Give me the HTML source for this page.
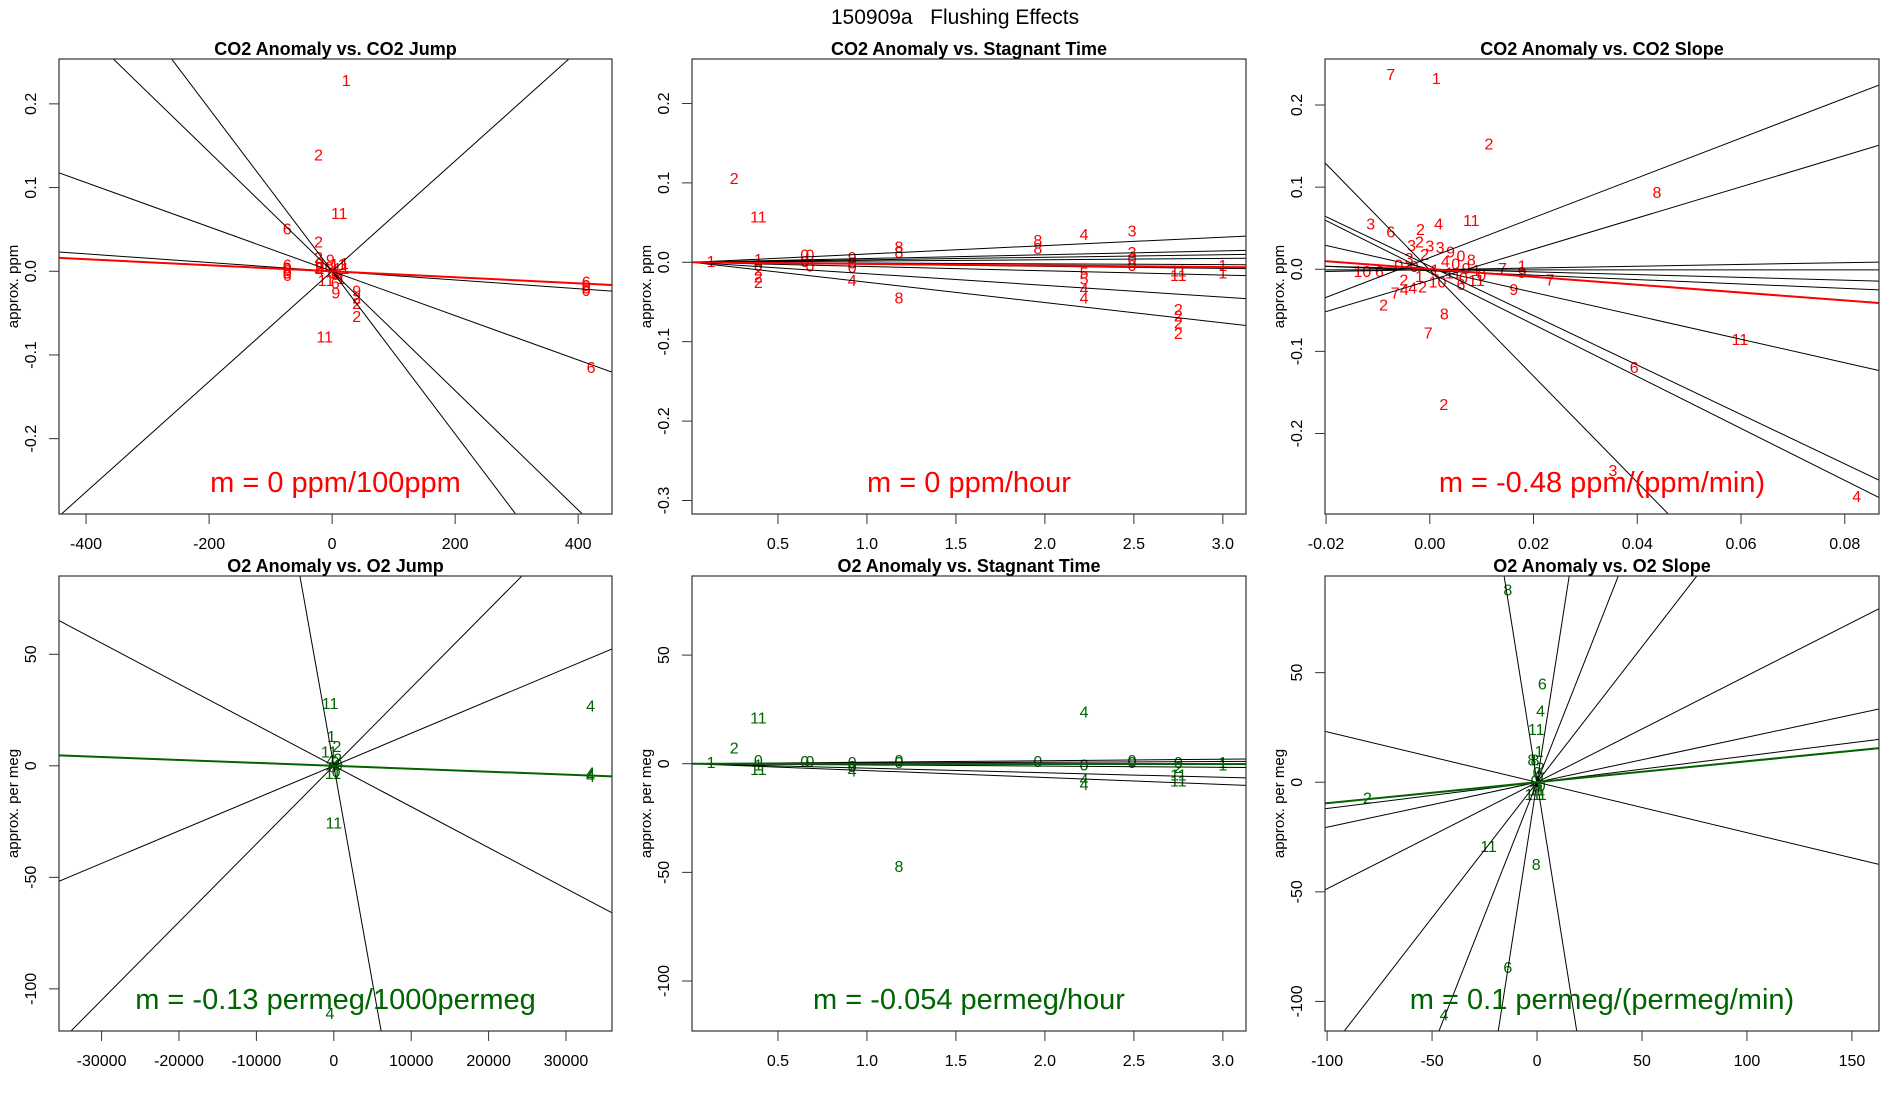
<!DOCTYPE html>
<html><head><meta charset="utf-8"><style>
html,body{margin:0;padding:0;background:#fff;width:1900px;height:1100px;overflow:hidden;}
svg{display:block;font-family:"Liberation Sans",sans-serif;}
</style></head><body>
<svg id="chart" width="1900" height="1100" viewBox="0 0 1900 1100" xmlns="http://www.w3.org/2000/svg">
<rect width="1900" height="1100" fill="#fff"/>
<text x="955" y="24" font-size="21" text-anchor="middle" xml:space="preserve">150909a   Flushing Effects</text>
</svg>
<script>
// ---------- Panel 1: CO2 Anomaly vs CO2 Jump ----------
const p1X = [23,-22,11.6,-73,-22,-73,-73,-73,-73,-73,413,413,413,413,421,-12,6,40,40,40,40,-22,-3,-20,20,10,-20,-5,-20,5,15,0,5,10,-10,5,15,-22];
const p1Y = [0.227,0.1375,0.0676,0.0496,0.034,0.006,0.003,0,-0.003,-0.006,-0.014,-0.018,-0.021,-0.024,-0.116,-0.08,-0.027,-0.025,-0.033,-0.04,-0.055,0.015,0.012,0.008,0.008,0.007,0.003,0.004,-0.001,0,0.002,-0.003,-0.005,-0.006,-0.012,-0.015,-0.01,0.003];
const p1Lab = ["1","2","11","6","2","6","0","6","0","6","6","0","6","0","6","11","9","9","2","2","2","2","9","0","1","11","0","0","4","1","11","0","6","4","11","6","1","2"];
const p1Slope = [-7.13e-4,-9.72e-4,-2.65e-4,-5.2e-5,6.59e-4];
const p1Int = [0,0,0,0,0];
const p1FitSlope = [-3.6e-5];
const p1FitInt = [0];
const p1XTicks = [-400,-200,0,200,400];
const p1YTicks = [-0.2,-0.1,0.0,0.1,0.2];
const p1YTickLab = ["-0.2","-0.1","0.0","0.1","0.2"];

// ---------- Panel 2: CO2 Anomaly vs Stagnant Time ----------
const p2X = [0.254,0.39,0.124,0.39,0.39,0.39,0.39,0.39,0.65,0.68,0.65,0.68,0.917,0.917,0.917,0.917,1.18,1.18,1.18,1.96,1.96,2.22,2.22,2.22,2.22,2.22,2.49,2.49,2.49,2.49,2.75,2.75,2.75,2.75,2.75,2.75,3.0,3.0];
const p2Y = [0.104,0.056,0,0.002,-0.005,-0.011,-0.02,-0.027,0.008,0.008,0,-0.006,0.005,-0.002,-0.008,-0.024,0.018,0.011,-0.046,0.026,0.016,0.034,-0.015,-0.022,-0.035,-0.046,0.038,0.011,0.003,-0.005,-0.012,-0.018,-0.061,-0.069,-0.078,-0.091,-0.005,-0.015];
const p2Lab = ["2","11","1","1","0","2","2","2","0","0","0","0","9","0","0","4","8","8","8","8","8","4","5","5","4","4","3","3","0","0","11","11","2","2","2","2","1","1"];
const p2Slope = [0.0106,0.0048,0.0032,0.0016,-0.001,-0.0026,-0.0054,-0.0147,-0.0256];
const p2Int = [-0.0002,-0.0001,-0.0001,0,0,0.0001,0.0001,0.0003,0.0005];
const p2FitSlope = [-0.002];
const p2FitInt = [0];
const p2XTicks = [0.5,1.0,1.5,2.0,2.5,3.0];
const p2XTickLab = ["0.5","1.0","1.5","2.0","2.5","3.0"];
const p2YTicks = [-0.3,-0.2,-0.1,0.0,0.1,0.2];
const p2YTickLab = ["-0.3","-0.2","-0.1","0.0","0.1","0.2"];

// ---------- Panel 3: CO2 Anomaly vs CO2 Slope ----------
const p3X = [-0.0075,0.00125,0.0114,0.0438,0.008,-0.0114,-0.0075,-0.0018,0.0017,0.0598,0.0394,0.0027,0.0353,0.0823,-0.0003,0.0028,-0.0089,-0.0067,-0.0049,-0.0033,-0.0014,0.0162,0.0232,0.0178,0.0178,0.014,-0.013,-0.0097,-0.0035,-0.002,0.0,0.002,0.004,0.006,0.008,-0.004,-0.001,0.003,0.005,0.007,0.009,-0.006,-0.003,0.001,0.0045,0.0065,0.01,-0.005,-0.002,0.0015,0.006,0.009];
const p3Y = [0.236,0.231,0.151,0.092,0.058,0.054,0.044,0.047,0.054,-0.087,-0.121,-0.166,-0.246,-0.278,-0.079,-0.056,-0.045,-0.03,-0.026,-0.024,-0.023,-0.026,-0.014,-0.005,0.003,0.0,-0.004,-0.004,0.028,0.032,0.027,0.025,0.02,0.015,0.01,0.012,0.017,0.008,0.005,0.0,-0.003,0.004,0.002,-0.002,-0.006,-0.012,-0.008,-0.014,-0.01,-0.017,-0.02,-0.015];
const p3Lab = ["7","1","2","8","11","3","6","2","4","11","6","2","3","4","7","8","2","7","4","4","2","9","7","9","1","7","10","6","3","2","3","3","9","0","8","3","2","4","0","9","1","0","0","1","11","0","0","2","1","10","6","11"];
const p3Slope = [-6.46,-3.01,-3.164,-1.428,-0.269,-0.1685,0,0.1077,2.426,1.9];
const p3Int = [-0.001,0.0038,-0.004,0.0004,-0.0018,0.0002,-0.0007,-0.0006,0.0142,-0.0136];
const p3FitSlope = [-0.478];
const p3FitInt = [0.0003];
const p3XTicks = [-0.02,0.0,0.02,0.04,0.06,0.08];
const p3XTickLab = ["-0.02","0.00","0.02","0.04","0.06","0.08"];
const p3YTicks = [-0.2,-0.1,0.0,0.1,0.2];
const p3YTickLab = ["-0.2","-0.1","0.0","0.1","0.2"];

// ---------- Panel 4: O2 Anomaly vs O2 Jump ----------
const p4X = [-480,33180,33180,33180,33180,0,-500,-300,400,-600,-400,200,600,-200,300,-100,500];
const p4Y = [27.5,26.3,-3.6,-4.5,-5.2,-26,-111.6,12.6,8.1,5.8,2,1,0,-1,-3,-4,2.5];
const p4Lab = ["11","4","4","4","4","11","4","1","2","11","4","0","0","6","0","11","2"];
const p4Slope = [-0.01944,-0.001834,0.001458,0.003502];
const p4Int = [0,0,0,0];
const p4FitSlope = [-0.0001314];
const p4FitInt = [0];
const p4XTicks = [-30000,-20000,-10000,0,10000,20000,30000];
const p4YTicks = [-100,-50,0,50];

// ---------- Panel 5: O2 Anomaly vs Stagnant Time ----------
const p5X = [0.39,0.254,0.124,2.22,1.18,2.75,2.22,2.22,2.75,2.75,0.39,0.39,0.39,0.65,0.68,0.917,0.917,0.917,1.18,1.18,1.96,2.22,2.49,2.49,2.75,3.0,3.0];
const p5Y = [20.6,6.7,0,23.3,-47.8,-8.3,-7.8,-10,-5.6,-2.2,1,-1,-3,0.5,0.5,0,-1.7,-3.9,1,0,0.5,-1,1,0,0,0,-1];
const p5Lab = ["11","2","1","4","8","11","4","4","11","2","0","1","11","0","0","0","0","4","0","0","0","0","0","0","0","1","1"];
const p5Slope = [0.7,0.35,0,-0.55,-2.1,-3.2];
const p5Int = [-0.01,-0.01,0,0.01,0.04,0.06];
const p5FitSlope = [-0.054];
const p5FitInt = [0];
const p5XTicks = [0.5,1.0,1.5,2.0,2.5,3.0];
const p5XTickLab = ["0.5","1.0","1.5","2.0","2.5","3.0"];
const p5YTicks = [-100,-50,0,50];

// ---------- Panel 6: O2 Anomaly vs O2 Slope ----------
const p6X = [-13.9,2.5,1.7,-0.4,1.0,-2.5,-1,-80.8,-23.1,-0.4,-13.9,-44.3,2.5,0,1,-1,2,0,-2,1.5,0.5];
const p6Y = [87.2,44.4,32,23.5,13.5,9.6,9.6,-7.6,-29.8,-37.9,-84.9,-106.6,-6,4,2,0,-2,-4,-6,6,-1];
const p6Lab = ["8","6","4","11","1","8","8","2","11","8","6","4","1","0","0","0","0","11","11","2","4"];
const p6Slope = [-6.0,6.14,2.43,1.236,0.486,0.2053,0.12,0.0944,-0.23];
const p6Int = [0,0,0,0,0,0,0,0,0];
const p6FitSlope = [0.0957];
const p6FitInt = [0];
const p6XTicks = [-100,-50,0,50,100,150];
const p6YTicks = [-100,-50,0,50];

const NS = "http://www.w3.org/2000/svg";
const svg = document.getElementById("chart");

function mk(tag, attrs, parent) {
  const e = document.createElementNS(NS, tag);
  for (const k in attrs) e.setAttribute(k, attrs[k]);
  (parent || svg).appendChild(e);
  return e;
}

let clipCount = 0;
function drawPanel(p) {
  const g = mk("g", {});
  
  
  const L = p.left, R = p.right, T = p.top, B = p.bottom;
  const sx = v => L + (v - p.xmin) / (p.xmax - p.xmin) * (R - L);
  const sy = v => B - (v - p.ymin) / (p.ymax - p.ymin) * (B - T);
  clipCount++;
  const cid = "clip" + clipCount;
  const cp = mk("clipPath", {id: cid}, g);
  mk("rect", {x: L, y: T, width: R - L, height: B - T}, cp);
  const inner = mk("g", {"clip-path": "url(#" + cid + ")"}, g);

  for (let i = 0; i < p.xs.length; i++) {
    const t = mk("text", {x: sx(p.xs[i]), y: sy(p.ys[i]), "font-size": 16, fill: p.color, "text-anchor": "middle", "dominant-baseline": "central"}, inner);
    
    
    t.textContent = p.labs[i];
  }
  for (let i = 0; i < p.slopes.length; i++) {
    const m = p.slopes[i], b = p.ints[i];
    const ln = mk("line", {x1: sx(p.xmin), y1: sy(m * p.xmin + b), x2: sx(p.xmax), y2: sy(m * p.xmax + b), stroke: "#000", "stroke-width": 1}, inner);
    
    
  }
  for (let i = 0; i < p.fitSlope.length; i++) {
    const m = p.fitSlope[i], b = p.fitInt[i];
    const ln = mk("line", {x1: sx(p.xmin), y1: sy(m * p.xmin + b), x2: sx(p.xmax), y2: sy(m * p.xmax + b), stroke: p.color, "stroke-width": 2}, inner);
    
    
  }
  const fr = mk("rect", {x: L, y: T, width: R - L, height: B - T, fill: "none", stroke: "#333", "stroke-width": 1.2}, g);
  
  
  for (let i = 0; i < p.xticks.length; i++) {
    const x = sx(p.xticks[i]);
    mk("line", {x1: x, y1: B, x2: x, y2: B + 10, stroke: "#333"}, g);
    const t = mk("text", {x: x, y: B + 35, "font-size": 16, "text-anchor": "middle"}, g);
    
    
    t.textContent = p.xtlab ? p.xtlab[i] : String(p.xticks[i]);
  }
  for (let i = 0; i < p.yticks.length; i++) {
    const y = sy(p.yticks[i]);
    mk("line", {x1: L, y1: y, x2: L - 10, y2: y, stroke: "#333"}, g);
    const t = mk("text", {x: L - 23, y: y, "font-size": 16, "text-anchor": "middle", transform: "rotate(-90 " + (L - 23) + " " + y + ")"}, g);
    
    
    t.textContent = p.ytlab ? p.ytlab[i] : String(p.yticks[i]);
  }
  const yc = (T + B) / 2;
  const yt = mk("text", {x: L - 41, y: yc, "font-size": 15, "text-anchor": "middle", transform: "rotate(-90 " + (L - 41) + " " + yc + ")"}, g);
  
  
  yt.textContent = p.ylabel;
  const tt = mk("text", {x: (L + R) / 2, y: T - 4, "font-size": 18, "font-weight": "bold", "text-anchor": "middle"}, g);
  
  
  tt.textContent = p.title;
  const an = mk("text", {x: (L + R) / 2, y: p.annY, "font-size": 29, fill: p.color, "text-anchor": "middle"}, g);
  
  
  an.textContent = p.ann;
}

const RED = "#ff0000", GREEN = "#006400";
const colL = [59, 692, 1325], colR = [612, 1246, 1879];

drawPanel({name:"panel-co2-jump", left:colL[0], right:colR[0], top:59, bottom:514, xmin:-444, xmax:455, ymin:-0.29, ymax:0.2536,
  xs:p1X, ys:p1Y, labs:p1Lab, slopes:p1Slope, ints:p1Int, fitSlope:p1FitSlope, fitInt:p1FitInt, color:RED,
  xticks:p1XTicks, yticks:p1YTicks, ytlab:p1YTickLab, ylabel:"approx. ppm", title:"CO2 Anomaly vs. CO2 Jump", ann:"m = 0 ppm/100ppm", annY:492});
drawPanel({name:"panel-co2-stagnant", left:colL[1], right:colR[1], top:59, bottom:514, xmin:0.017, xmax:3.13, ymin:-0.317, ymax:0.256,
  xs:p2X, ys:p2Y, labs:p2Lab, slopes:p2Slope, ints:p2Int, fitSlope:p2FitSlope, fitInt:p2FitInt, color:RED,
  xticks:p2XTicks, xtlab:p2XTickLab, yticks:p2YTicks, ytlab:p2YTickLab, ylabel:"approx. ppm", title:"CO2 Anomaly vs. Stagnant Time", ann:"m = 0 ppm/hour", annY:492});
drawPanel({name:"panel-co2-slope", left:colL[2], right:colR[2], top:59, bottom:514, xmin:-0.0202, xmax:0.0866, ymin:-0.298, ymax:0.256,
  xs:p3X, ys:p3Y, labs:p3Lab, slopes:p3Slope, ints:p3Int, fitSlope:p3FitSlope, fitInt:p3FitInt, color:RED,
  xticks:p3XTicks, xtlab:p3XTickLab, yticks:p3YTicks, ytlab:p3YTickLab, ylabel:"approx. ppm", title:"CO2 Anomaly vs. CO2 Slope", ann:"m = -0.48 ppm/(ppm/min)", annY:492});
drawPanel({name:"panel-o2-jump", left:colL[0], right:colR[0], top:576, bottom:1031, xmin:-35500, xmax:35940, ymin:-118.9, ymax:85.1,
  xs:p4X, ys:p4Y, labs:p4Lab, slopes:p4Slope, ints:p4Int, fitSlope:p4FitSlope, fitInt:p4FitInt, color:GREEN,
  xticks:p4XTicks, yticks:p4YTicks, ylabel:"approx. per meg", title:"O2 Anomaly vs. O2 Jump", ann:"m = -0.13 permeg/1000permeg", annY:1009});
drawPanel({name:"panel-o2-stagnant", left:colL[1], right:colR[1], top:576, bottom:1031, xmin:0.017, xmax:3.13, ymin:-123, ymax:86.4,
  xs:p5X, ys:p5Y, labs:p5Lab, slopes:p5Slope, ints:p5Int, fitSlope:p5FitSlope, fitInt:p5FitInt, color:GREEN,
  xticks:p5XTicks, xtlab:p5XTickLab, yticks:p5YTicks, ylabel:"approx. per meg", title:"O2 Anomaly vs. Stagnant Time", ann:"m = -0.054 permeg/hour", annY:1009});
drawPanel({name:"panel-o2-slope", left:colL[2], right:colR[2], top:576, bottom:1031, xmin:-101, xmax:162.9, ymin:-113.5, ymax:94.1,
  xs:p6X, ys:p6Y, labs:p6Lab, slopes:p6Slope, ints:p6Int, fitSlope:p6FitSlope, fitInt:p6FitInt, color:GREEN,
  xticks:p6XTicks, yticks:p6YTicks, ylabel:"approx. per meg", title:"O2 Anomaly vs. O2 Slope", ann:"m = 0.1 permeg/(permeg/min)", annY:1009});
</script>
</body></html>
